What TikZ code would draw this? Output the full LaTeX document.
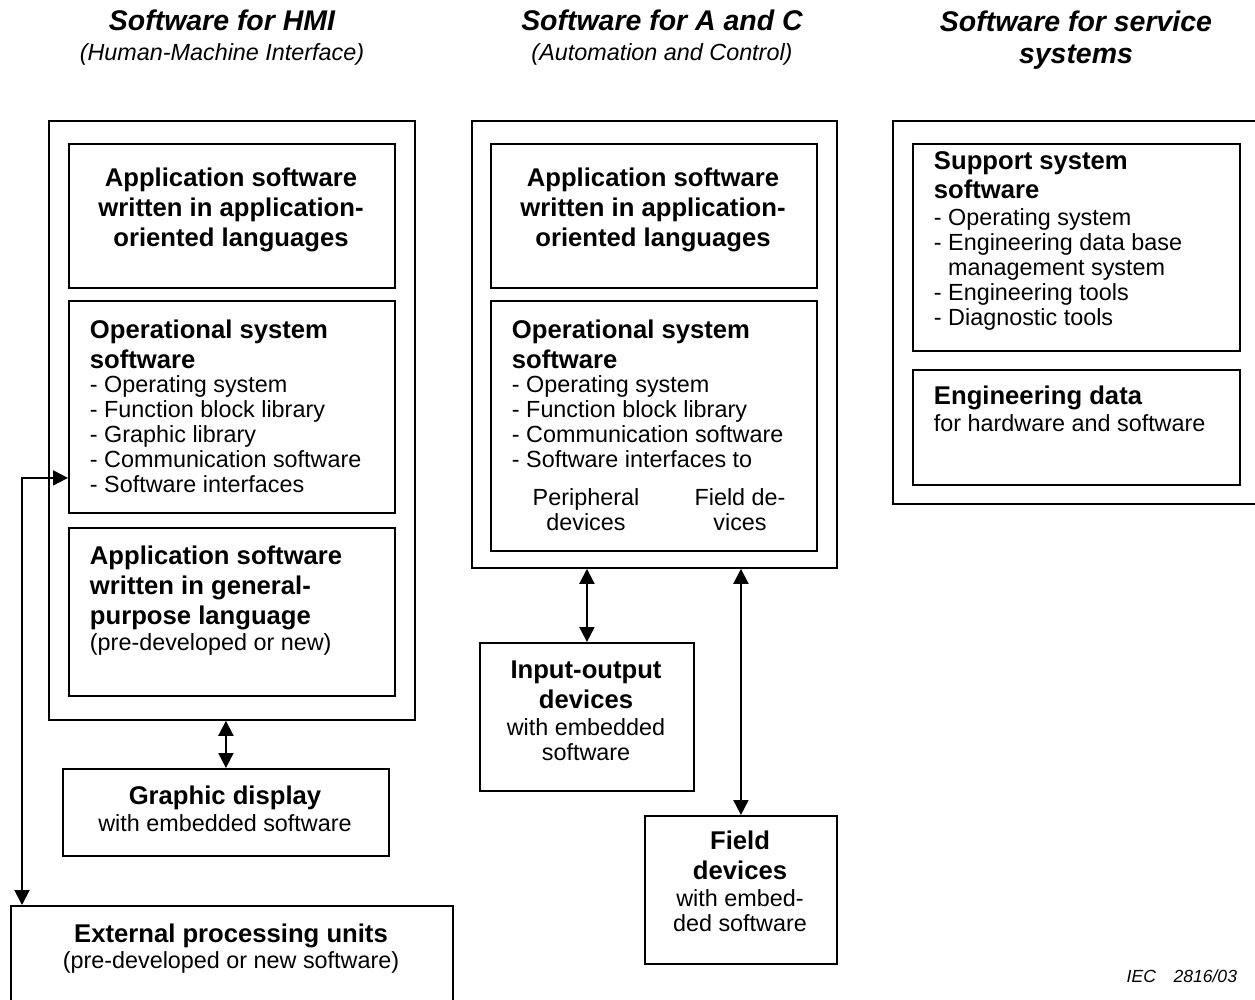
\documentclass[tikz,border=0pt]{standalone}
\usepackage{fontspec}
\setmainfont{Liberation Sans}
\usetikzlibrary{positioning}
\usetikzlibrary{arrows.meta}

\begin{document}
\begin{tikzpicture}[
    x=0.02cm, y=-0.02cm,
    box/.style={draw, line width=1.1pt, anchor=north west, inner sep=0pt},
    ttl/.style={font=\fontsize{14.6}{17.2}\selectfont\bfseries, inner sep=0pt},
    items/.style={font=\fontsize{13.3}{14.2}\selectfont, inner sep=0pt},
    heading/.style={font=\fontsize{16.2}{18.2}\selectfont\bfseries\itshape, inner sep=0pt, align=center, anchor=north},
    subheading/.style={font=\fontsize{13.3}{15}\selectfont\itshape, inner sep=0pt, anchor=north},
    >={Triangle[length=0.3cm, width=0.3cm]},  % Arrow style
    line width=1.1pt
]
    \useasboundingbox (0,0) rectangle (1255,1000);

    % Column headings
    \node[heading] (hmihead) at (222,9) {Software for HMI};
    \node[subheading] (hmisub) at (222,43) {(Human-Machine Interface)};
    \node[heading] (achead) at (662,9) {Software for A and C};
    \node[subheading] (acsub) at (662,43) {(Automation and Control)};
    \node[heading] (svchead) at (1076,10) {Software for service\\systems};

    % HMI column
    \node[box, minimum width=7.32cm, minimum height=11.98cm] (hmi) at (48,120) {};
    \node[box, minimum width=6.52cm, minimum height=2.88cm] (hmiapp) at (68,143) {};
    \node[box, minimum width=6.52cm, minimum height=4.24cm] (hmiop) at (68,300) {};
    \node[box, minimum width=6.52cm, minimum height=3.36cm] (hmigen) at (68,527) {};
    \node[ttl, align=center, anchor=north] (hmiapptxt) at (231,167)
        {Application software\\written in application-\\oriented languages};
    \node[ttl, align=left, anchor=north west] (hmioptxt) at (89,319)
        {Operational system\\software};
    \node[items, align=left, anchor=north west] (hmioplist) at (89,375)
        {- Operating system\\- Function block library\\- Graphic library\\- Communication software\\- Software interfaces};
    \node[ttl, align=left, anchor=north west] (hmigentxt) at (89,545)
        {Application software\\written in general-\\purpose language};
    \node[items, anchor=north west] (hmigennote) at (89,633) {(pre-developed or new)};

    % Graphic display
    \node[box, minimum width=6.52cm, minimum height=1.74cm] (display) at (62,768) {};
    \node[ttl, anchor=north] (displaytxt) at (225,785) {Graphic display};
    \node[items, anchor=north] (displaynote) at (225,814) {with embedded software};

    % External processing units
    \node[box, minimum width=8.84cm, minimum height=2.4cm] (external) at (10,905) {};
    \node[ttl, anchor=north] (externaltxt) at (231,923) {External processing units};
    \node[items, anchor=north] (externalnote) at (231,951) {(pre-developed or new software)};

    % A and C column
    \node[box, minimum width=7.3cm, minimum height=8.94cm] (ac) at (471,120) {};
    \node[box, minimum width=6.52cm, minimum height=2.88cm] (acapp) at (490,143) {};
    \node[box, minimum width=6.52cm, minimum height=5cm] (acop) at (490,300) {};
    \node[ttl, align=center, anchor=north] (acapptxt) at (653,167)
        {Application software\\written in application-\\oriented languages};
    \node[ttl, align=left, anchor=north west] (acoptxt) at (511,319)
        {Operational system\\software};
    \node[items, align=left, anchor=north west] (acoplist) at (511,375)
        {- Operating system\\- Function block library\\- Communication software\\- Software interfaces to};
    \node[items, align=center, anchor=north] (periph) at (586,488) {Peripheral\\devices};
    \node[items, align=center, anchor=north] (fielddev) at (740,488) {Field de-\\vices};

    % Input-output devices
    \node[box, minimum width=4.28cm, minimum height=2.96cm] (io) at (479,642) {};
    \node[ttl, align=center, anchor=north] (iotxt) at (586,660) {Input-output\\devices};
    \node[items, align=center, anchor=north] (ionote) at (586,718) {with embedded\\software};

    % Field devices
    \node[box, minimum width=3.84cm, minimum height=2.96cm] (field) at (644,815) {};
    \node[ttl, align=center, anchor=north] (fieldtxt) at (740,830) {Field\\devices};
    \node[items, align=center, anchor=north] (fieldnote) at (740,889) {with embed-\\ded software};

    % Service column
    \node[box, minimum width=7.8cm, minimum height=7.66cm] (svc) at (892,120) {};
    \node[box, minimum width=6.54cm, minimum height=4.14cm] (support) at (912,143) {};
    \node[box, minimum width=6.54cm, minimum height=2.3cm] (engdata) at (912,369) {};
    \node[ttl, align=left, anchor=north west, font=\fontsize{14.6}{16.2}\selectfont\bfseries] (supporttxt) at (933,151)
        {Support system\\software};
    \node[items, align=left, anchor=north west] (supportlist) at (933,208)
        {- Operating system\\- Engineering data base\\\phantom{- }management system\\- Engineering tools\\- Diagnostic tools};
    \node[ttl, anchor=north west] (engdatatxt) at (933,385) {Engineering data};
    \node[items, anchor=north west] (engdatanote) at (933,414) {for hardware and software};

    \node[font=\fontsize{10}{12}\selectfont\itshape, anchor=base east, inner sep=0pt] (iec) at (1238,982) {IEC\quad 2816/03};

    % Connections
    \draw[<->] (display.north |- hmi.south) -- (display.north);
    \draw[<->] (io.north |- ac.south) -- (io.north);
    \draw[<->] (field.north |- ac.south) -- (field.north);
    \draw[<->] ([xshift=0.24cm]external.north west) |- ([yshift=-1.42cm]hmiop.west);
\end{tikzpicture}
\end{document}
